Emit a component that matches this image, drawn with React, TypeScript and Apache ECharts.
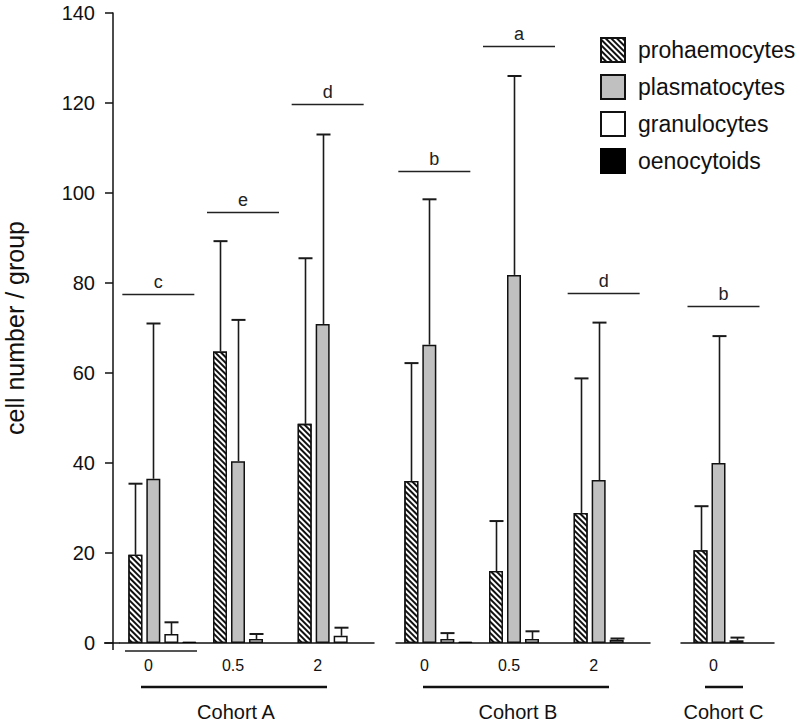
import React, { useEffect, useRef } from 'react';
import * as echarts from 'echarts';

// ---------- data ----------
const seriesNames = ['prohaemocytes', 'plasmatocytes', 'granulocytes', 'oenocytoids'];
const cohortNames = ['Cohort A', 'Cohort B', 'Cohort C'];

const dosesA = ['0', '0.5', '2'];
const dosesB = ['0', '0.5', '2'];
const dosesC = ['0'];

// Cohort A
const proA = [19.6, 64.8, 48.7];
const plasmaA = [36.5, 40.4, 70.9];
const granA = [2.0, 0.9, 1.6];
const oenoA: (number | string)[] = [0.3, '-', '-'];
const proErrA = [35.4, 89.3, 85.5];
const plasmaErrA = [71.0, 71.8, 113.0];
const granErrA = [4.6, 2.0, 3.4];
const lettersA = ['c', 'e', 'd'];
const letterLevelA = [77.6, 95.8, 119.7];

// Cohort B
const proB = [36.0, 16.0, 28.9];
const plasmaB = [66.3, 81.8, 36.2];
const granB = [0.9, 0.9, 0.7];
const oenoB: (number | string)[] = [0.3, '-', '-'];
const proErrB = [62.2, 27.1, 58.8];
const plasmaErrB = [98.6, 126.0, 71.2];
const granErrB = [2.2, 2.6, 1.0];
const lettersB = ['b', 'a', 'd'];
const letterLevelB = [105.0, 132.7, 77.8];

// Cohort C
const proC = [20.6];
const plasmaC = [40.0];
const granC = [0.6];
const oenoC: (number | string)[] = ['-'];
const proErrC = [30.4];
const plasmaErrC = [68.2];
const granErrC = [1.2];
const lettersC = ['b'];
const letterLevelC = [75.0];

const yTicks = [0, 20, 40, 60, 80, 100, 120, 140];

// ---------- styling constants ----------
const FONT = '"Liberation Sans", Arial, sans-serif';
const BAR_W = 14;
const BAR_GAP = 4;
const STRIDE = BAR_W + BAR_GAP;

const cohorts = [
  { cats: dosesA, vals: [proA, plasmaA, granA, oenoA], errs: [proErrA, plasmaErrA, granErrA], letters: lettersA, levels: letterLevelA },
  { cats: dosesB, vals: [proB, plasmaB, granB, oenoB], errs: [proErrB, plasmaErrB, granErrB], letters: lettersB, levels: letterLevelB },
  { cats: dosesC, vals: [proC, plasmaC, granC, oenoC], errs: [proErrC, plasmaErrC, granErrC], letters: lettersC, levels: letterLevelC },
];

const grids = [
  { left: 120, width: 254 },
  { left: 396, width: 254 },
  { left: 681, width: 93 },
];
const namePad = [22, 10, 8];

const itemStyles: any[] = [
  {
    color: '#ffffff',
    borderColor: '#111',
    borderWidth: 1.3,
    decal: {
      symbol: 'rect',
      symbolSize: 1,
      color: '#111',
      backgroundColor: '#ffffff',
      dashArrayX: [1, 0],
      dashArrayY: [1.3, 1.5],
      rotation: Math.PI / 4,
    },
  },
  { color: '#c0c0c0', borderColor: '#111', borderWidth: 1.5 },
  { color: '#ffffff', borderColor: '#111', borderWidth: 1.5 },
  { color: '#000000', borderColor: '#000', borderWidth: 1 },
];

function buildOption() {
  const series: any[] = [];
  const xAxis: any[] = [];
  const yAxis: any[] = [];
  const grid: any[] = [];

  cohorts.forEach((c, k) => {
    grid.push({
      left: grids[k].left,
      width: grids[k].width,
      top: 13,
      bottom: 79,
      containLabel: false,
      outerBoundsMode: 'none',
    });
    xAxis.push({
      type: 'category',
      gridIndex: k,
      data: c.cats,
      axisLine: { show: true, lineStyle: { color: '#111', width: 1.5 } },
      axisTick: { show: false },
      axisLabel: {
        fontFamily: FONT,
        fontSize: 16,
        color: '#111',
        margin: 14,
        padding: [0, 28, 0, 0],
      },
      name: cohortNames[k],
      nameLocation: 'middle',
      nameGap: 59,
      nameTextStyle: { fontFamily: FONT, fontSize: 20, color: '#111', padding: [0, namePad[k], 0, 0] },
    });
    yAxis.push(
      k === 0
        ? {
            type: 'value',
            gridIndex: k,
            min: 0,
            max: 140,
            interval: 20,
            offset: 7,
            axisLine: { show: true, lineStyle: { color: '#111', width: 1.5 } },
            axisTick: { show: true, inside: false, length: 8, lineStyle: { color: '#111', width: 1.5 } },
            axisLabel: {
              fontFamily: FONT,
              fontSize: 20,
              color: '#111',
              margin: 18,
              formatter: (v: number) => (yTicks.includes(v) ? String(v) : ''),
            },
            splitLine: { show: false },
            name: 'cell number / group',
            nameLocation: 'middle',
            nameGap: 86,
            nameTextStyle: { fontFamily: FONT, fontSize: 25, color: '#111' },
          }
        : {
            type: 'value',
            gridIndex: k,
            min: 0,
            max: 140,
            interval: 20,
            show: false,
            splitLine: { show: false },
          }
    );

    // bars
    seriesNames.forEach((name, s) => {
      series.push({
        name,
        type: 'bar',
        xAxisIndex: k,
        yAxisIndex: k,
        data: c.vals[s],
        barWidth: BAR_W,
        barGap: `${(BAR_GAP / BAR_W) * 100}%`,
        itemStyle: itemStyles[s],
        z: 3,
      });
    });

    // error bars
    const errData: any[] = [];
    c.errs.forEach((arr, s) => {
      arr.forEach((hi, i) => {
        const lo = c.vals[s][i];
        if (typeof hi === 'number' && typeof lo === 'number') errData.push([i, lo, hi, s]);
      });
    });
    series.push({
      type: 'custom',
      xAxisIndex: k,
      yAxisIndex: k,
      data: errData,
      encode: { x: 0, y: [1, 2] },
      z: 2,
      silent: true,
      renderItem: (params: any, api: any) => {
        const cat = api.value(0);
        const lo = api.value(1);
        const hi = api.value(2);
        const s = api.value(3);
        const top = api.coord([cat, hi]);
        const bot = api.coord([cat, lo]);
        const x = Math.round(top[0] + (s - 1.5) * STRIDE) + 0.5;
        const st = { stroke: '#1a1a1a', lineWidth: 1.6 };
        return {
          type: 'group',
          children: [
            { type: 'line', shape: { x1: x, y1: bot[1], x2: x, y2: top[1] }, style: st },
            { type: 'line', shape: { x1: x - 7, y1: top[1], x2: x + 7, y2: top[1] }, style: { stroke: '#1a1a1a', lineWidth: 2 } },
          ],
        };
      },
    });

    // significance letters
    const sigData = c.levels.map((v, i) => [i, v]);
    const letters = c.letters;
    series.push({
      type: 'custom',
      xAxisIndex: k,
      yAxisIndex: k,
      data: sigData,
      encode: { x: 0, y: 1 },
      z: 4,
      silent: true,
      renderItem: (params: any, api: any) => {
        const p = api.coord([api.value(0), api.value(1)]);
        const cx = p[0] - 4;
        const y = Math.round(p[1]) + 0.5;
        return {
          type: 'group',
          children: [
            { type: 'line', shape: { x1: cx - 36, y1: y, x2: cx + 36, y2: y }, style: { stroke: '#222', lineWidth: 1.5 } },
            {
              type: 'text',
              x: cx,
              y: y - 13,
              style: {
                text: letters[params.dataIndex],
                fontFamily: FONT,
                fontSize: 18,
                fill: '#222',
                align: 'center',
                verticalAlign: 'middle',
              },
            },
          ],
        };
      },
    });
  });

  const lineStyle = (w: number, c = '#111') => ({ stroke: c, lineWidth: w });

  return {
    animation: false,
    backgroundColor: '#ffffff',
    textStyle: { fontFamily: FONT },
    grid,
    xAxis,
    yAxis,
    legend: {
      data: seriesNames,
      orient: 'vertical',
      left: 595,
      top: 32,
      itemWidth: 24,
      itemHeight: 24,
      itemGap: 11,
      icon: 'rect',
      selectedMode: false,
      textStyle: { fontFamily: FONT, fontSize: 23, color: '#111', padding: [0, 0, 0, 8] },
    },
    series,
    graphic: [
      { type: 'line', shape: { x1: 104, y1: 643, x2: 120, y2: 643 }, style: lineStyle(1.5) },
      { type: 'line', shape: { x1: 113, y1: 643, x2: 113, y2: 650 }, style: lineStyle(1.5) },
      { type: 'line', shape: { x1: 125, y1: 651, x2: 197, y2: 651 }, style: lineStyle(2, '#555') },
      { type: 'line', shape: { x1: 141, y1: 687, x2: 327, y2: 687 }, style: lineStyle(2.5) },
      { type: 'line', shape: { x1: 423, y1: 687, x2: 609, y2: 687 }, style: lineStyle(2.5) },
      { type: 'line', shape: { x1: 705, y1: 687, x2: 743, y2: 687 }, style: lineStyle(2.5) },
    ],
  };
}

export default function App() {
  const ref = useRef<HTMLDivElement>(null);
  useEffect(() => {
    document.body.style.margin = '0';
    if (!ref.current) return;
    const chart = echarts.init(ref.current, undefined, { renderer: 'svg' });
    chart.setOption(buildOption() as any);
    return () => chart.dispose();
  }, []);
  return <div ref={ref} style={{ position: 'absolute', left: 0, top: 0, width: 800, height: 722 }} />;
}
